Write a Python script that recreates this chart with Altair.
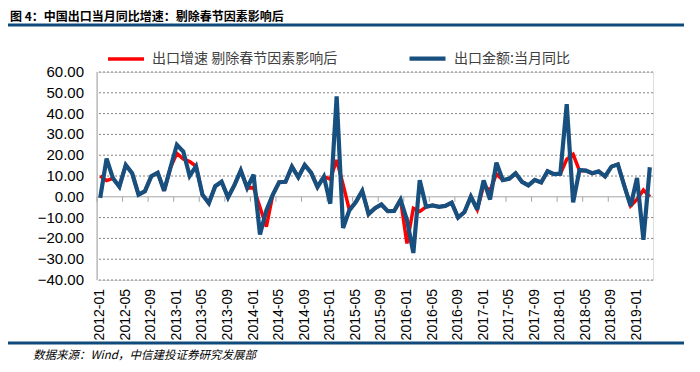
import altair as alt
import pandas as pd

# ---- data ----
months = [f"{y}-{m:02d}" for y in range(2012, 2020) for m in range(1, 13)][:87]
tick_idx = list(range(0, 87, 4))
tick_labels = [months[i] for i in tick_idx]
y_ticks = list(range(-40, 61, 10))

NAME_RED = "出口增速 剔除春节因素影响后"
NAME_BLUE = "出口金额:当月同比"

export_yoy = [
    -0.5, 18.4, 8.9, 4.9, 15.3, 11.3, 1.0, 2.7, 9.9, 11.6, 2.9, 14.1,
    25.0, 21.8, 10.0, 14.7, 1.0, -3.1, 5.1, 7.2, -0.3, 5.6, 12.7, 4.3,
    10.6, -18.1, -6.6, 0.9, 7.0, 7.2, 14.5, 9.4, 15.3, 11.6, 4.7, 9.7,
    -3.3, 48.3, -15.0, -6.4, -2.5, 2.8, -8.3, -5.5, -3.7, -6.9, -6.8, -1.4,
    -11.2, -27.0, 8.0, -4.8, -4.1, -4.8, -4.4, -2.8, -10.0, -7.3, 0.1, -6.1,
    7.9, -1.3, 16.4, 8.0, 8.7, 11.3, 7.2, 5.5, 8.1, 6.9, 12.3, 10.9,
    11.1, 44.5, -2.7, 12.9, 12.6, 11.3, 12.2, 9.8, 14.5, 15.6, 5.4, -4.4,
    9.1, -20.7, 14.2,
]

export_adj = [
    10.0, 7.8, 8.9, 4.9, 15.3, 11.3, 1.0, 2.7, 9.9, 11.6, 2.9, 14.1,
    20.9, 18.2, 16.9, 14.7, 1.0, -3.1, 5.1, 7.2, -0.3, 5.6, 12.7, 4.3,
    4.4, -5.0, -14.4, 0.9, 7.0, 7.2, 14.5, 9.4, 15.3, 11.6, 4.7, 9.7,
    8.5, 17.7, 6.0, -6.4, -2.5, 2.8, -8.3, -5.5, -3.7, -6.9, -6.8, -1.4,
    -22.4, -5.5, -7.0, -4.8, -4.1, -4.8, -4.4, -2.8, -10.0, -7.3, 0.1, -6.1,
    5.5, 3.0, 11.0, 8.0, 8.7, 11.3, 7.2, 5.5, 8.1, 6.9, 12.3, 10.9,
    11.1, 18.0, 20.4, 12.5, 12.6, 11.3, 12.2, 9.8, 14.5, 15.6, 5.4, -4.4,
    -1.2, 3.3, 0.0,
]

rows = []
for i, m in enumerate(months):
    rows.append({"idx": i, "month": m, "series": NAME_RED, "value": export_adj[i]})
    rows.append({"idx": i, "month": m, "series": NAME_BLUE, "value": export_yoy[i]})
df = pd.DataFrame(rows)

RED = "#FF0000"
BLUE = "#17507E"
GREY = "#A6A6A6"
FONT_NUM = "Liberation Sans"
FONT_CJK = "Noto Sans CJK SC"

PLOT_W, PLOT_H = 556, 208
X_LO, X_HI = -0.5, 86.5
xscale = alt.Scale(domain=[X_LO, X_HI], nice=False, zero=False)
yscale = alt.Scale(domain=[-40, 60], nice=False, zero=False)

# ---- gridlines, axis line at zero, category ticks ----
grid_df = pd.DataFrame({"v": [v for v in y_ticks if v != 0]})
gridlines = alt.Chart(grid_df).mark_rule(
    color="#808080", strokeWidth=1, strokeDash=[2, 2]
).encode(y=alt.Y("v:Q", scale=yscale, axis=None))

zero_df = pd.DataFrame({"v": [0]})
zero_line = alt.Chart(zero_df).mark_rule(color=GREY, strokeWidth=1).encode(
    y=alt.Y("v:Q", scale=yscale, axis=None)
)

yaxis_df = pd.DataFrame({"x": [X_LO]})
yaxis_line = alt.Chart(yaxis_df).mark_rule(color=GREY, strokeWidth=1).encode(
    x=alt.X("x:Q", scale=xscale, axis=None)
)

tick_df = pd.DataFrame({"t": [4 * k - 0.5 for k in range(22)], "a": 0.0, "b": -2.4})
tick_marks = alt.Chart(tick_df).mark_rule(color=GREY, strokeWidth=1).encode(
    x=alt.X("t:Q", scale=xscale, axis=None),
    y=alt.Y("a:Q", scale=yscale, axis=None),
    y2="b:Q",
)

# ---- tick labels ----
xlab_df = pd.DataFrame({"idx": tick_idx, "label": tick_labels})
x_labels = alt.Chart(xlab_df).mark_text(
    angle=270, align="right", baseline="middle", font=FONT_NUM, fontSize=14,
    color="#000000"
).encode(
    x=alt.X("idx:Q", scale=xscale, axis=None),
    y=alt.value(PLOT_H + 9),
    text="label:N",
)

ylab_df = pd.DataFrame({"v": y_ticks})
y_labels = alt.Chart(ylab_df).mark_text(
    align="right", baseline="middle", font=FONT_NUM, fontSize=15, color="#000000"
).encode(
    y=alt.Y("v:Q", scale=yscale, axis=None),
    x=alt.value(-13),
    text=alt.Text("v:Q", format=".2f"),
)

# ---- data lines ----
lines = alt.Chart(df).mark_line(strokeJoin="miter", strokeMiterLimit=3).encode(
    x=alt.X("idx:Q", scale=xscale, axis=None),
    y=alt.Y("value:Q", scale=yscale, axis=None),
    color=alt.Color("series:N",
                    scale=alt.Scale(domain=[NAME_RED, NAME_BLUE], range=[RED, BLUE]),
                    legend=alt.Legend(orient="none", direction="horizontal",
                                      legendX=9, legendY=-34, title=None,
                                      symbolType="stroke", symbolSize=1296,
                                      symbolStrokeWidth=3.5, labelFont=FONT_CJK,
                                      labelFontSize=14, labelColor="#404040",
                                      labelOffset=6, columnPadding=63, padding=0,
                                      labelLimit=400)),
    strokeWidth=alt.StrokeWidth("series:N",
                                scale=alt.Scale(domain=[NAME_RED, NAME_BLUE], range=[3.5, 4.2]),
                                legend=None),
)

# ---- page decorations ----
deco_df = pd.DataFrame({"k": [0]})
top_bar = alt.Chart(deco_df).mark_rule(color="#0E4A7B", strokeWidth=3).encode(
    x=alt.value(-97), x2=alt.value(603), y=alt.value(-47)
)
bottom_bar = alt.Chart(deco_df).mark_rule(color="#0E4A7B", strokeWidth=3).encode(
    x=alt.value(-97), x2=alt.value(603), y=alt.value(271)
)
title_txt = alt.Chart(deco_df).mark_text(
    text="图 4：中国出口当月同比增速：剔除春节因素影响后", align="left", baseline="middle",
    font=FONT_CJK, fontSize=12, fontWeight="bold", color="#000000"
).encode(x=alt.value(-87), y=alt.value(-55.5))
foot_txt = alt.Chart(deco_df).mark_text(
    text="数据来源：Wind，中信建投证券研究发展部", align="left", baseline="middle",
    font=FONT_CJK, fontSize=11.5, fontStyle="italic", color="#000000"
).encode(x=alt.value(-64), y=alt.value(284))

chart = alt.layer(
    gridlines, zero_line, yaxis_line, tick_marks, x_labels, y_labels, lines,
    top_bar, bottom_bar, title_txt, foot_txt
).properties(
    width=PLOT_W, height=PLOT_H,
    autosize=alt.AutoSizeParams(type="none"),
    padding={"left": 89, "top": 64, "right": 31, "bottom": 82},
)

chart.save("out.html", embed_options={"renderer": "svg", "actions": False})
